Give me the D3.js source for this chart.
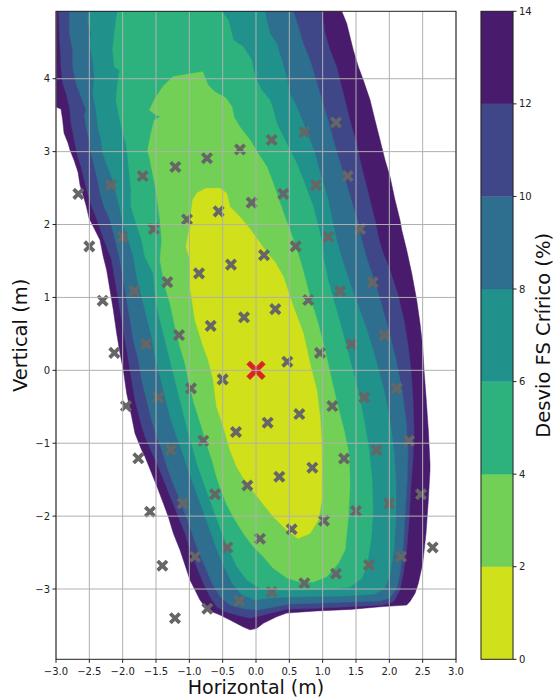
<!DOCTYPE html>
<html>
<head>
<meta charset="utf-8">
<script src="https://cdn.jsdelivr.net/npm/d3@7"></script>
<style>
  body { margin: 0; background: #ffffff; }
  text { font-family: "DejaVu Sans", sans-serif; }
</style>
</head>
<body>
<svg id="chart" width="556" height="699"></svg>
<script>
// Contour levels of the critical FS deviation (%)
const levels = [0, 2, 4, 6, 8, 10, 12, 14];
const xTicks = [-3.0, -2.5, -2.0, -1.5, -1.0, -0.5, 0.0, 0.5, 1.0, 1.5, 2.0, 2.5, 3.0];
const yTicks = [-3, -2, -1, 0, 1, 2, 3, 4];
const cbTicks = [0, 2, 4, 6, 8, 10, 12, 14];

// Outline of the region where the deviation stays below each level (x, y in m)
const below14 = [[-3.1,5.2],[1.16,5.2],[1.286,4.925],[1.36,4.76],[1.46,4.39],[1.535,4.165],[1.61,3.98],[1.71,3.71],[1.785,3.43],[1.86,3.16],[1.935,2.885],[2.01,2.655],[2.085,2.335],[2.16,2.06],[2.186,1.925],[2.26,1.65],[2.336,1.33],[2.41,0.965],[2.46,0.645],[2.5,0.325],[2.52,0.0],[2.55,-0.36],[2.585,-0.82],[2.61,-1.28],[2.61,-1.37],[2.585,-1.78],[2.55,-2.24],[2.5,-2.65],[2.435,-2.92],[2.385,-3.06],[2.31,-3.17],[2.26,-3.22],[1.91,-3.24],[1.41,-3.28],[0.91,-3.30],[0.46,-3.33],[0.31,-3.38],[0.11,-3.47],[0.01,-3.54],[-0.09,-3.56],[-0.19,-3.52],[-0.39,-3.425],[-0.54,-3.356],[-0.665,-3.31],[-0.765,-3.243],[-0.84,-3.15],[-0.915,-3.013],[-0.99,-2.876],[-1.065,-2.67],[-1.14,-2.465],[-1.24,-2.236],[-1.315,-2.008],[-1.39,-1.824],[-1.465,-1.642],[-1.565,-1.413],[-1.665,-1.185],[-1.715,-1.093],[-1.815,-0.865],[-1.865,-0.637],[-1.94,-0.316],[-1.99,0.004],[-2.04,0.233],[-2.09,0.507],[-2.14,0.827],[-2.19,1.102],[-2.24,1.376],[-2.29,1.558],[-2.34,1.787],[-2.43,1.952],[-2.505,2.089],[-2.55,2.267],[-2.595,2.405],[-2.64,2.542],[-2.67,2.72],[-2.73,2.885],[-2.79,3.022],[-2.82,3.118],[-2.88,3.255],[-2.9,3.433],[-2.925,3.584],[-3.0,3.612],[-3.1,3.612]];

const below12 = [[-2.97,5.2],[-2.96,4.925],[-2.95,4.623],[-2.925,4.165],[-2.9,3.937],[-2.85,3.80],[-2.8,3.616],[-2.775,3.388],[-2.725,3.159],[-2.675,2.93],[-2.625,2.793],[-2.575,2.61],[-2.525,2.428],[-2.46,2.244],[-2.385,2.062],[-2.28,1.787],[-2.165,1.513],[-2.115,1.239],[-2.065,0.964],[-2.015,0.69],[-1.965,0.416],[-1.915,0.141],[-1.865,-0.133],[-1.815,-0.407],[-1.74,-0.682],[-1.665,-0.911],[-1.565,-1.12],[-1.465,-1.322],[-1.365,-1.55],[-1.265,-1.779],[-1.165,-2.008],[-1.065,-2.236],[-0.99,-2.465],[-0.89,-2.694],[-0.79,-2.922],[-0.69,-3.105],[-0.59,-3.243],[-0.465,-3.311],[-0.29,-3.357],[-0.09,-3.402],[0.11,-3.357],[0.31,-3.311],[0.46,-3.278],[0.91,-3.265],[1.41,-3.243],[1.91,-3.219],[2.06,-3.174],[2.16,-3.014],[2.21,-2.785],[2.26,-2.465],[2.3,-2.008],[2.325,-1.55],[2.355,-1.23],[2.37,-0.819],[2.355,-0.407],[2.325,0.004],[2.28,0.347],[2.22,0.69],[2.13,1.033],[2.01,1.376],[1.89,1.65],[1.83,1.856],[1.785,2.062],[1.71,2.336],[1.635,2.61],[1.56,2.885],[1.51,3.114],[1.435,3.341],[1.36,3.616],[1.285,3.89],[1.21,4.165],[1.11,4.394],[1.035,4.623],[0.985,4.925],[0.93,5.2]];

const below10 = [[-2.82,5.2],[-2.80,4.924],[-2.80,4.622],[-2.75,4.393],[-2.75,4.164],[-2.70,3.936],[-2.625,3.753],[-2.55,3.570],[-2.575,3.502],[-2.55,3.341],[-2.50,3.159],[-2.475,2.976],[-2.425,2.792],[-2.375,2.610],[-2.34,2.428],[-2.28,2.244],[-2.19,2.061],[-2.115,1.787],[-2.04,1.513],[-1.99,1.238],[-1.94,0.964],[-1.89,0.690],[-1.84,0.415],[-1.765,0.141],[-1.715,-0.133],[-1.64,-0.408],[-1.565,-0.682],[-1.49,-0.911],[-1.415,-1.093],[-1.335,-1.323],[-1.245,-1.551],[-1.14,-1.780],[-1.05,-2.008],[-0.96,-2.236],[-0.87,-2.465],[-0.765,-2.694],[-0.66,-2.922],[-0.54,-3.105],[-0.39,-3.220],[-0.165,-3.274],[0.03,-3.288],[0.285,-3.243],[0.51,-3.206],[0.96,-3.192],[1.41,-3.178],[1.86,-3.165],[2.01,-3.124],[2.115,-2.987],[2.16,-2.781],[2.205,-2.465],[2.235,-2.013],[2.265,-1.546],[2.28,-1.093],[2.25,-0.682],[2.19,-0.271],[2.10,0.141],[2.01,0.484],[1.905,0.827],[1.80,1.170],[1.68,1.485],[1.585,1.787],[1.535,2.016],[1.46,2.244],[1.385,2.473],[1.31,2.702],[1.235,2.930],[1.16,3.159],[1.11,3.341],[1.035,3.570],[0.96,3.799],[0.885,4.027],[0.81,4.256],[0.71,4.485],[0.635,4.713],[0.56,4.924],[0.51,5.2]];

const below8 = [[-2.52,5.2],[-2.50,4.924],[-2.525,4.805],[-2.475,4.622],[-2.50,4.485],[-2.45,4.256],[-2.425,4.027],[-2.45,3.799],[-2.40,3.570],[-2.375,3.341],[-2.325,3.159],[-2.30,2.976],[-2.225,2.792],[-2.15,2.610],[-2.10,2.428],[-2.05,2.244],[-2.01,2.061],[-1.915,1.787],[-1.84,1.558],[-1.79,1.284],[-1.715,1.010],[-1.64,0.735],[-1.565,0.461],[-1.515,0.186],[-1.44,-0.088],[-1.365,-0.362],[-1.29,-0.637],[-1.19,-0.911],[-1.115,-1.093],[-1.035,-1.323],[-0.945,-1.551],[-0.855,-1.780],[-0.765,-2.008],[-0.675,-2.236],[-0.585,-2.465],[-0.48,-2.694],[-0.36,-2.922],[-0.21,-3.082],[-0.015,-3.151],[0.21,-3.124],[0.51,-3.110],[0.96,-3.103],[1.41,-3.096],[1.785,-3.069],[1.935,-2.987],[2.01,-2.808],[2.07,-2.465],[2.10,-2.013],[2.10,-1.546],[2.07,-1.093],[2.01,-0.682],[1.92,-0.271],[1.80,0.141],[1.665,0.552],[1.53,0.895],[1.41,1.197],[1.305,1.485],[1.21,1.787],[1.135,2.107],[1.085,2.336],[1.01,2.565],[0.935,2.792],[0.885,2.976],[0.81,3.159],[0.71,3.388],[0.61,3.615],[0.51,3.799],[0.46,4.027],[0.385,4.256],[0.31,4.485],[0.21,4.622],[0.16,4.805],[0.135,4.924],[0.09,5.2]];

const below6 = [[-2.07,5.2],[-2.075,4.924],[-2.10,4.805],[-2.125,4.622],[-2.15,4.393],[-2.125,4.164],[-2.05,4.119],[-2.075,3.936],[-2.10,3.707],[-2.05,3.478],[-2.00,3.250],[-1.95,3.113],[-1.925,2.930],[-1.90,2.702],[-1.875,2.473],[-1.875,2.244],[-1.815,2.061],[-1.715,1.787],[-1.665,1.558],[-1.54,1.330],[-1.515,1.056],[-1.465,0.781],[-1.39,0.507],[-1.315,0.232],[-1.24,-0.042],[-1.165,-0.316],[-1.09,-0.590],[-1.015,-0.865],[-0.94,-1.093],[-0.87,-1.323],[-0.78,-1.551],[-0.69,-1.780],[-0.60,-2.008],[-0.51,-2.236],[-0.405,-2.465],[-0.285,-2.694],[-0.135,-2.877],[0.06,-2.987],[0.285,-3.014],[0.66,-3.014],[1.11,-3.000],[1.41,-2.973],[1.59,-2.849],[1.665,-2.671],[1.725,-2.328],[1.755,-1.917],[1.74,-1.505],[1.695,-1.093],[1.62,-0.682],[1.53,-0.271],[1.41,0.141],[1.29,0.552],[1.185,0.895],[1.08,1.238],[1.02,1.513],[0.985,1.787],[0.935,1.969],[0.86,2.244],[0.785,2.428],[0.71,2.610],[0.61,2.839],[0.51,3.021],[0.41,3.204],[0.31,3.388],[0.26,3.570],[0.21,3.707],[0.085,3.844],[-0.015,4.027],[-0.065,4.256],[-0.19,4.438],[-0.34,4.530],[-0.365,4.622],[-0.415,4.805],[-0.515,4.924],[-0.57,5.2]];

const below4 = [[-0.80,4.096],[-1.25,4.027],[-1.40,3.890],[-1.525,3.707],[-1.60,3.570],[-1.50,3.502],[-1.425,3.478],[-1.525,3.433],[-1.575,3.250],[-1.625,3.021],[-1.59,2.884],[-1.545,2.679],[-1.50,2.473],[-1.47,2.267],[-1.44,2.061],[-1.415,1.787],[-1.44,1.513],[-1.365,1.146],[-1.29,0.919],[-1.215,0.598],[-1.14,0.323],[-1.065,0.095],[-1.015,-0.133],[-0.93,-0.449],[-0.825,-0.751],[-0.735,-1.025],[-0.66,-1.231],[-0.60,-1.437],[-0.525,-1.642],[-0.435,-1.848],[-0.33,-2.026],[-0.19,-2.236],[-0.04,-2.420],[0.11,-2.557],[0.255,-2.712],[0.465,-2.849],[0.66,-2.904],[0.86,-2.904],[1.06,-2.831],[1.235,-2.648],[1.335,-2.465],[1.385,-2.008],[1.41,-1.551],[1.395,-1.162],[1.32,-0.819],[1.215,-0.449],[1.125,-0.092],[1.035,0.278],[0.93,0.648],[0.81,1.005],[0.705,1.375],[0.615,1.650],[0.51,1.924],[0.435,2.103],[0.345,2.336],[0.24,2.610],[0.165,2.788],[0.03,2.980],[-0.09,3.159],[-0.24,3.337],[-0.33,3.474],[-0.36,3.611],[-0.45,3.735],[-0.615,3.817],[-0.72,3.913]];

const below2 = [[-0.885,2.432],[-0.95,2.336],[-0.975,2.153],[-0.99,1.993],[-1.05,1.695],[-0.99,1.513],[-0.99,1.146],[-0.915,0.690],[-0.79,0.323],[-0.715,0.141],[-0.64,-0.133],[-0.59,-0.500],[-0.49,-0.774],[-0.39,-1.093],[-0.29,-1.323],[-0.14,-1.551],[0.06,-1.780],[0.26,-2.008],[0.46,-2.191],[0.63,-2.308],[0.81,-2.236],[0.935,-2.054],[0.985,-1.780],[0.99,-1.368],[0.985,-1.002],[0.96,-0.637],[0.91,-0.271],[0.81,0.095],[0.71,0.507],[0.56,0.872],[0.41,1.284],[0.285,1.485],[0.18,1.595],[0.03,1.787],[-0.09,1.938],[-0.24,2.103],[-0.39,2.244],[-0.44,2.428],[-0.54,2.496],[-0.75,2.496]];

// Sampled positions (grey crosses) and the reference point (red cross)
const pointsX = [-2.665,-2.175,-1.70,-1.21,-0.735,-0.24,0.235,0.725,1.2,
                 -2.5,-2.0,-1.535,-1.035,-0.56,-0.065,0.41,0.90,1.375,
                 -2.3,-1.825,-1.33,-0.855,-0.375,0.12,0.595,1.085,1.56,
                 -2.125,-1.65,-1.155,-0.68,-0.18,0.29,0.785,1.26,1.75,
                 -1.95,-1.465,-0.975,-0.5,0.47,0.96,1.435,1.925,
                 -1.765,-1.275,-0.79,-0.3,0.175,0.65,1.145,1.625,2.11,
                 -1.59,-1.10,-0.615,-0.13,0.35,0.845,1.32,1.81,2.295,
                 -1.405,-0.915,-0.43,0.06,0.535,1.02,1.5,2.0,2.475,
                 -1.215,-0.73,-0.25,0.235,0.725,1.2,1.695,2.175,2.65];
const pointsY = [2.42,2.54,2.665,2.79,2.91,3.03,3.16,3.27,3.40,
                 1.70,1.83,1.94,2.07,2.18,2.30,2.42,2.54,2.665,
                 0.955,1.088,1.21,1.33,1.45,1.58,1.70,1.83,1.94,
                 0.24,0.36,0.484,0.61,0.727,0.84,0.964,1.088,1.207,
                 -0.49,-0.37,-0.247,-0.124,0.118,0.24,0.36,0.484,
                 -1.207,-1.09,-0.965,-0.846,-0.718,-0.60,-0.49,-0.37,-0.247,
                 -1.94,-1.825,-1.70,-1.58,-1.46,-1.336,-1.21,-1.093,-0.966,
                 -2.68,-2.557,-2.43,-2.31,-2.18,-2.063,-1.93,-1.825,-1.70,
                 -3.40,-3.27,-3.165,-3.04,-2.92,-2.79,-2.67,-2.557,-2.43];
const centerPoint = [0, 0];

const outlines = [below14, below12, below10, below8, below6, below4, below2];
const outlineTop = [14, 12, 10, 8, 6, 4, 2];

// ---- layout ----
const svg = d3.select("#chart");
const plot = { left: 56, top: 11.3, width: 400, height: 648 };
const x = d3.scaleLinear().domain([-3, 3]).range([plot.left, plot.left + plot.width]);
const y = d3.scaleLinear().domain([-3.964, 4.925]).range([plot.top + plot.height, plot.top]);

// reversed viridis, coloured at the middle of each band
const bandColor = top => d3.interpolateViridis(1 - (top - 1) / 14);

svg.append("defs").append("clipPath").attr("id", "plotClip")
  .append("rect")
  .attr("x", plot.left).attr("y", plot.top)
  .attr("width", plot.width).attr("height", plot.height);

const area = svg.append("g").attr("clip-path", "url(#plotClip)");
const line = d3.line().x(d => x(d[0])).y(d => y(d[1])).curve(d3.curveLinearClosed);

area.selectAll("path.band")
  .data(outlines)
  .join("path")
  .attr("class", "band")
  .attr("d", d => line(d))
  .attr("fill", (d, i) => bandColor(outlineTop[i]))
  .attr("stroke", (d, i) => bandColor(outlineTop[i]))
  .attr("stroke-width", 0.5);

// grid
const grid = svg.append("g");
grid.selectAll("line.gx").data(xTicks).join("line")
  .attr("x1", d => x(d)).attr("x2", d => x(d))
  .attr("y1", plot.top).attr("y2", plot.top + plot.height)
  .attr("stroke", "#b0b0b0").attr("stroke-width", 1);
grid.selectAll("line.gy").data(yTicks).join("line")
  .attr("y1", d => y(d)).attr("y2", d => y(d))
  .attr("x1", plot.left).attr("x2", plot.left + plot.width)
  .attr("stroke", "#b0b0b0").attr("stroke-width", 1);

// crosses
const cross = s => `M${-s},${-s}L${s},${s}M${-s},${s}L${s},${-s}`;
const pts = d3.range(pointsX.length).map(i => [pointsX[i], pointsY[i]]);
area.selectAll("path.pt").data(pts).join("path")
  .attr("class", "pt")
  .attr("transform", d => `translate(${x(d[0])},${y(d[1])})`)
  .attr("d", cross(4.7))
  .attr("stroke", "#666666").attr("stroke-width", 3.8).attr("fill", "none");
area.append("path")
  .attr("transform", `translate(${x(centerPoint[0])},${y(centerPoint[1])})`)
  .attr("d", cross(7.8))
  .attr("stroke", "#dc2424").attr("stroke-width", 5.2).attr("fill", "none");

// frame
svg.append("rect")
  .attr("x", plot.left).attr("y", plot.top)
  .attr("width", plot.width).attr("height", plot.height)
  .attr("fill", "none").attr("stroke", "#222").attr("stroke-width", 1);

// axes ticks and labels
const minus = v => (v < 0 ? "\u2212" : "") + Math.abs(v);
const xAxis = svg.append("g");
xAxis.selectAll("line").data(xTicks).join("line")
  .attr("x1", d => x(d)).attr("x2", d => x(d))
  .attr("y1", plot.top + plot.height).attr("y2", plot.top + plot.height + 3.5)
  .attr("stroke", "#222");
xAxis.selectAll("text").data(xTicks).join("text")
  .attr("x", d => x(d)).attr("y", plot.top + plot.height + 16)
  .attr("text-anchor", "middle").attr("font-size", 10).attr("fill", "#222")
  .text(d => (d < 0 ? "\u2212" : "") + Math.abs(d).toFixed(1));

const yAxis = svg.append("g");
yAxis.selectAll("line").data(yTicks).join("line")
  .attr("y1", d => y(d)).attr("y2", d => y(d))
  .attr("x1", plot.left - 3.5).attr("x2", plot.left)
  .attr("stroke", "#222");
yAxis.selectAll("text").data(yTicks).join("text")
  .attr("x", plot.left - 6).attr("y", d => y(d))
  .attr("dy", "0.35em")
  .attr("text-anchor", "end").attr("font-size", 10).attr("fill", "#222")
  .text(d => minus(d));

svg.append("text")
  .attr("x", x(0)).attr("y", 694)
  .attr("text-anchor", "middle").attr("font-size", 19).attr("fill", "#111")
  .text("Horizontal (m)");
svg.append("text")
  .attr("transform", `translate(20,${plot.top + plot.height / 2}) rotate(-90)`)
  .attr("dy", "0.35em")
  .attr("text-anchor", "middle").attr("font-size", 19.5).attr("fill", "#111")
  .text("Vertical (m)");

// colour bar
const cb = { left: 481, width: 32 };
const cy = d3.scaleLinear().domain([0, 14]).range([plot.top + plot.height, plot.top]);
const cbar = svg.append("g");
cbar.selectAll("rect").data(d3.range(levels.length - 1)).join("rect")
  .attr("x", cb.left).attr("width", cb.width)
  .attr("y", i => cy(levels[i + 1]))
  .attr("height", i => cy(levels[i]) - cy(levels[i + 1]))
  .attr("fill", i => bandColor(levels[i + 1]))
  .attr("stroke", i => bandColor(levels[i + 1])).attr("stroke-width", 0.3);
cbar.append("rect")
  .attr("x", cb.left).attr("y", plot.top).attr("width", cb.width).attr("height", plot.height)
  .attr("fill", "none").attr("stroke", "#222").attr("stroke-width", 1);
cbar.selectAll("line.t").data(cbTicks).join("line")
  .attr("x1", cb.left + cb.width).attr("x2", cb.left + cb.width + 3.5)
  .attr("y1", d => cy(d)).attr("y2", d => cy(d)).attr("stroke", "#222");
cbar.selectAll("text.t").data(cbTicks).join("text")
  .attr("x", cb.left + cb.width + 6).attr("y", d => cy(d)).attr("dy", "0.35em")
  .attr("font-size", 10).attr("fill", "#222")
  .text(d => d);
svg.append("text")
  .attr("transform", `translate(543,${plot.top + plot.height / 2}) rotate(-90)`)
  .attr("dy", "0.35em")
  .attr("text-anchor", "middle").attr("font-size", 19.5).attr("fill", "#111")
  .text("Desvio FS Crírico (%)");
</script>
</body>
</html>
